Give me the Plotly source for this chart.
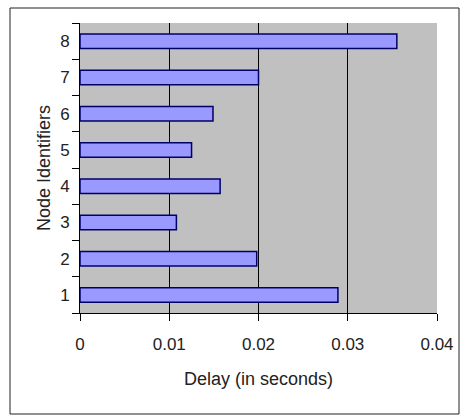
import plotly.graph_objects as go

nodes = ["1", "2", "3", "4", "5", "6", "7", "8"]
delays = [0.0289, 0.0198, 0.0108, 0.0157, 0.0125, 0.0149, 0.0200, 0.0355]
x_ticks = [0, 0.01, 0.02, 0.03, 0.04]
x_tick_labels = ["0", "0.01", "0.02", "0.03", "0.04"]

fig = go.Figure(go.Bar(
    y=nodes, x=delays, orientation="h",
    marker=dict(color="#9999FF", line=dict(color="#000066", width=1.5)),
    width=0.4,
))

W, H = 462, 416
L, R, T, B = 80, 25, 23, 103
pw, ph = W - L - R, H - T - B
FAM = "Liberation Sans, Arial, sans-serif"

fig.update_layout(
    width=W, height=H,
    margin=dict(l=L, r=R, t=T, b=B, autoexpand=False),
    paper_bgcolor="white", plot_bgcolor="#C0C0C0",
    font=dict(family=FAM, size=17, color="#222"),
    showlegend=False,
    shapes=[dict(
        type="rect", xref="paper", yref="paper",
        x0=(10 - L) / pw, x1=(459 - L) / pw,
        y0=-(414 - (T + ph)) / ph, y1=1 + (T - 8) / ph,
        line=dict(color="#222", width=1), layer="below",
    )],
)
fig.update_xaxes(
    range=[0, 0.04], tickvals=x_ticks, ticktext=x_tick_labels,
    tickfont=dict(family=FAM, size=17), automargin=False,
    showgrid=True, gridcolor="black", gridwidth=1,
    showline=True, linecolor="black", linewidth=1,
    ticks="outside", ticklen=7, tickcolor="black", ticklabelstandoff=9,
    zeroline=False,
    title=dict(text="Delay (in seconds)", standoff=18, font=dict(family=FAM, size=18)),
)
fig.update_yaxes(
    type="category", categoryorder="array", categoryarray=nodes,
    tickfont=dict(family=FAM, size=17), automargin=False,
    tickson="boundaries", ticks="outside", ticklen=7, tickcolor="black",
    ticklabelstandoff=6,
    showgrid=False, showline=True, linecolor="black", linewidth=1,
    title=dict(text="Node Identifiers", standoff=4, font=dict(family=FAM, size=18)),
)
fig.write_html("out.html")
